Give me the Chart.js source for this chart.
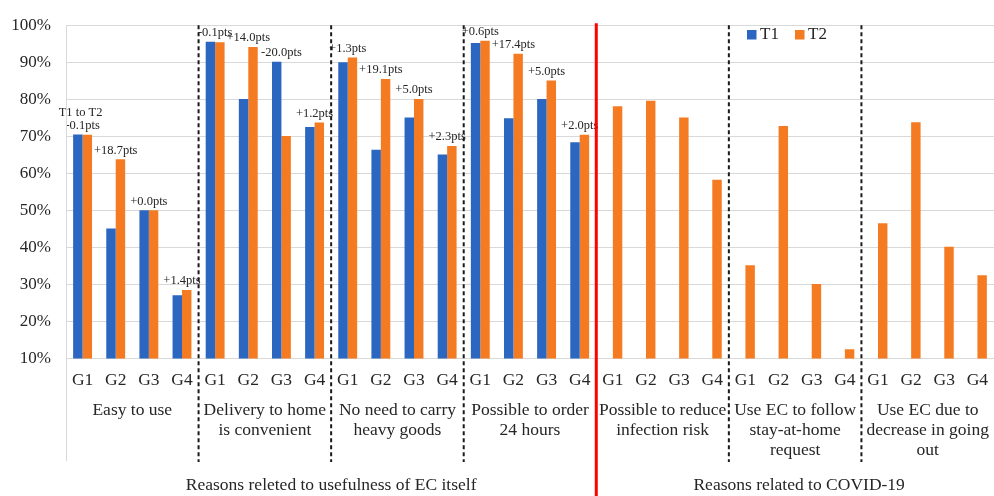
<!DOCTYPE html>
<html>
<head>
<meta charset="utf-8">
<script src="https://cdn.jsdelivr.net/npm/chart.js@4.4.1/dist/chart.umd.min.js"></script>
<style>
  html, body { margin: 0; padding: 0; background: #ffffff; }
  canvas { display: block; }
</style>
</head>
<body>
<canvas id="chart" width="994" height="496"></canvas>
<script>
// ---- data ----
const subGroups = ['G1', 'G2', 'G3', 'G4'];
const groupNames = [
  ['Easy to use'],
  ['Delivery to home', 'is convenient'],
  ['No need to carry', 'heavy goods'],
  ['Possible to order', '24 hours'],
  ['Possible to reduce', 'infection risk'],
  ['Use EC to follow', 'stay-at-home', 'request'],
  ['Use EC due to', 'decrease in going', 'out']
];
const superGroupLabels = ['Reasons releted to usefulness of EC itself', 'Reasons related to COVID-19'];
const superGroupSizes = [4, 3];           // number of groups under each heading
const seriesNames = ['T1', 'T2'];
const t1Values = [
  70.5, 45.1, 50.0, 27.1,
  95.5, 80.1, 90.1, 72.5,
  90.0, 66.4, 75.1, 65.1,
  95.2, 74.9, 80.1, 68.4,
  null, null, null, null,
  null, null, null, null,
  null, null, null, null
];
const t2Values = [
  70.4, 63.8, 50.0, 28.5,
  95.4, 94.1, 70.1, 73.7,
  91.3, 85.5, 80.1, 67.4,
  95.8, 92.3, 85.1, 70.4,
  78.1, 79.6, 75.1, 58.3,
  35.2, 72.8, 30.1, 12.5,
  46.5, 73.8, 40.2, 32.5
];
const yMin = 10, yMax = 100, yStep = 10;
const changeCaption = 'T1 to T2';

// ---- style ----
const BLUE = '#2B66C0';
const ORANGE = '#F47B22';
const TEXT = '#262626';
const GRID = '#d9d9d9';
const SERIF = '"Liberation Serif", "Times New Roman", serif';

const categoryLabels = [];
groupNames.forEach(g => subGroups.forEach(s => categoryLabels.push(s + ' ' + g.join(' '))));

const groupBoundary = (x, b) => (x.getPixelForValue(4 * b - 1) + x.getPixelForValue(4 * b)) / 2;

const overlay = {
  id: 'overlay',
  afterDatasetsDraw(chart) {
    const { ctx, scales: { x, y }, chartArea: a } = chart;
    const step = x.getPixelForValue(1) - x.getPixelForValue(0);
    ctx.save();
    ctx.fillStyle = TEXT;
    ctx.textAlign = 'center';
    ctx.textBaseline = 'middle';

    // change between T1 and T2 above each pair
    ctx.font = '12.5px ' + SERIF;
    for (let i = 0; i < t1Values.length; i++) {
      if (t1Values[i] == null || t2Values[i] == null) continue;
      const d = Math.round((t2Values[i] - t1Values[i]) * 10) / 10;
      const txt = (d < 0 ? '-' : '+') + Math.abs(d).toFixed(1) + 'pts';
      const cx = x.getPixelForValue(i);
      const top = y.getPixelForValue(Math.max(t1Values[i], t2Values[i]));
      ctx.fillText(txt, cx, top - 9);
      if (i === 0) ctx.fillText(changeCaption, cx - 2, top - 22);
    }

    // sub-group labels
    ctx.font = '17.5px ' + SERIF;
    for (let i = 0; i < categoryLabels.length; i++) {
      ctx.fillText(subGroups[i % 4], x.getPixelForValue(i), 380);
    }
    // group labels
    groupNames.forEach((lines, g) => {
      const cx = (x.getPixelForValue(4 * g) + x.getPixelForValue(4 * g + 3)) / 2;
      lines.forEach((ln, k) => ctx.fillText(ln, cx, 410 + k * 20));
    });
    // heading labels
    let start = 0;
    superGroupLabels.forEach((lbl, s) => {
      const end = start + superGroupSizes[s] * 4 - 1;
      const left = x.getPixelForValue(start) - step / 2;
      const right = x.getPixelForValue(end) + step / 2;
      ctx.fillText(lbl, (left + right) / 2 + (s === 1 ? 4 : 0), 485);
      start = end + 1;
    });

    // left axis line
    ctx.strokeStyle = GRID;
    ctx.lineWidth = 1;
    ctx.beginPath();
    ctx.moveTo(a.left + 0.5, a.top);
    ctx.lineTo(a.left + 0.5, 461);
    ctx.stroke();

    // group dividers
    for (let b = 1; b < groupNames.length; b++) {
      const bx = groupBoundary(x, b);
      ctx.beginPath();
      if (b === superGroupSizes[0]) {
        ctx.setLineDash([]);
        ctx.strokeStyle = '#ff0000';
        ctx.lineWidth = 3;
        ctx.moveTo(bx, a.top - 2);
        ctx.lineTo(bx, 496);
      } else {
        ctx.setLineDash([4, 3]);
        ctx.strokeStyle = '#1a1a1a';
        ctx.lineWidth = 2;
        ctx.moveTo(bx, a.top);
        ctx.lineTo(bx, 462);
      }
      ctx.stroke();
    }
    ctx.setLineDash([]);

    // legend
    ctx.font = '17px ' + SERIF;
    ctx.textAlign = 'left';
    const legendX = [747, 795];
    [BLUE, ORANGE].forEach((c, k) => {
      ctx.fillStyle = c;
      ctx.fillRect(legendX[k], 30, 9.5, 9.5);
      ctx.fillStyle = TEXT;
      ctx.fillText(seriesNames[k], legendX[k] + 13, 35);
    });
    ctx.restore();
  }
};

new Chart(document.getElementById('chart'), {
  type: 'bar',
  data: {
    labels: categoryLabels,
    datasets: [
      { label: seriesNames[0], data: t1Values, backgroundColor: BLUE, borderWidth: 0 },
      { label: seriesNames[1], data: t2Values, backgroundColor: ORANGE, borderWidth: 0 }
    ]
  },
  options: {
    responsive: false,
    animation: false,
    devicePixelRatio: 1,
    layout: { padding: { top: 15, bottom: 137.5, left: 0, right: 0 } },
    datasets: { bar: { categoryPercentage: 0.57, barPercentage: 1.0 } },
    plugins: { legend: { display: false }, tooltip: { enabled: false } },
    scales: {
      x: { display: false, offset: true },
      y: {
        min: yMin, max: yMax,
        afterFit(scale) { scale.width = 66; },
        grid: { color: GRID, lineWidth: 1, drawTicks: false },
        border: { display: false },
        ticks: {
          stepSize: yStep,
          padding: 15,
          color: TEXT,
          font: { family: SERIF, size: 17 },
          callback: v => v + '%'
        }
      }
    }
  },
  plugins: [overlay]
});
</script>
</body>
</html>
